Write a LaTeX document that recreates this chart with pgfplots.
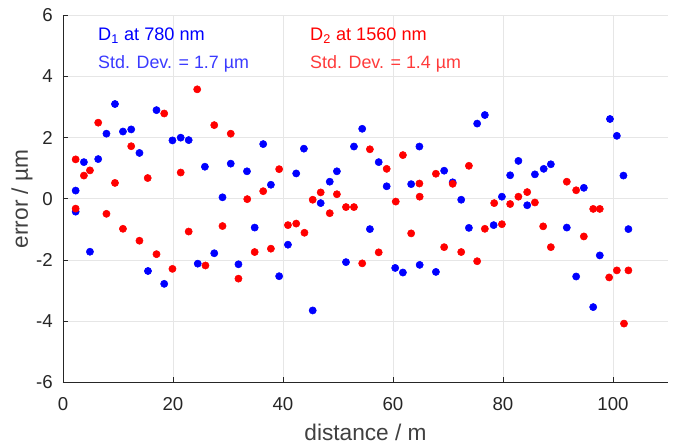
\documentclass[border=0pt]{standalone}
\usepackage{fontspec}
\setmainfont{Liberation Sans}
\usepackage{pgfplots}
\pgfplotsset{compat=1.18}
\usetikzlibrary{calc}
\definecolor{axgray}{HTML}{262626}
\definecolor{labgray}{HTML}{404040}
\definecolor{gridgray}{HTML}{E6E6E6}
\definecolor{dblue}{HTML}{0000FF}
\definecolor{dred}{HTML}{FF0000}
\definecolor{sblue}{HTML}{3A3AFF}
\definecolor{sred}{HTML}{FF3A3A}

\begin{document}
\begin{tikzpicture}
\begin{axis}[
  scale only axis,
  width=453.75pt, height=275.25pt,
  xmin=0, xmax=110, ymin=-6, ymax=6,
  xtick={0,20,...,100}, ytick={-6,-4,...,6},
  axis lines*=left,
  axis line style={draw=axgray, line width=0.6pt},
  tick style={draw=axgray, line width=0.6pt},
  tick align=inside,
  major tick length=4pt,
  grid=major,
  grid style={gridgray, line width=0.6pt},
  ticklabel style={font=\fontsize{14}{16}\selectfont, text=axgray},
  xticklabel style={anchor=base, yshift=-20.8pt},
  yticklabel style={anchor=east, inner xsep=0pt, xshift=-7.5pt},
  /pgf/number format/assume math mode=true,
  xlabel={distance / m},
  ylabel={error / µm},
  label style={font=\fontsize{17}{19}\selectfont, text=labgray},
  xlabel style={at={(rel axis cs:0.5,0)}, anchor=base, yshift=-44pt},
  ylabel style={at={(rel axis cs:0,0.5)}, rotate=0, anchor=base, yshift=26.25pt},
  clip=false,
]
\coordinate (sw) at (rel axis cs:0,0);
\coordinate (ne) at (rel axis cs:1,1);
\addplot[only marks, mark=*, mark size=2.7pt, mark options={draw=dblue, fill=dblue}] coordinates {
(2.3,0.27) (2.3,-0.42) (3.8,1.2) (4.9,-1.73) (6.4,1.3) (7.9,2.13) (9.45,3.10)
(10.9,2.2) (12.4,2.27) (13.9,1.5) (15.45,-2.36) (17.0,2.9) (18.4,-2.78)
(19.9,1.91) (21.4,2.0) (22.85,1.92) (24.5,-2.12) (25.8,1.05) (27.5,-1.78)
(29.0,0.05) (30.5,1.15) (31.9,-2.14) (33.45,0.9) (34.85,-0.94) (36.4,1.79)
(37.8,0.46) (39.3,-2.53) (40.9,-1.5) (42.4,0.83) (43.8,1.64) (45.4,-3.65)
(46.85,-0.14) (48.5,0.56) (49.8,0.9) (51.45,-2.07) (52.9,1.71) (54.4,2.29)
(55.8,-0.99) (57.4,1.2) (58.85,0.41) (60.4,-2.26) (61.8,-2.41) (63.3,0.48)
(64.8,1.71) (64.85,-2.16) (67.8,-2.39) (69.3,0.92) (70.85,0.54) (72.4,-0.03)
(73.8,-0.95) (75.3,2.46) (76.7,2.74) (78.3,-0.86) (79.8,0.07) (81.3,0.77)
(82.8,1.24) (84.4,-0.21) (85.8,0.8) (87.4,0.98) (88.7,1.13) (91.6,-0.94)
(93.3,-2.54) (94.7,0.36) (96.4,-3.54) (97.6,-1.85) (99.45,2.61) (100.7,2.06)
(101.9,0.76) (102.8,-0.99)
};
\addplot[only marks, mark=*, mark size=2.7pt, mark options={draw=dred, fill=dred}] coordinates {
(2.3,1.29) (2.3,-0.32) (3.8,0.76) (4.9,0.93) (6.4,2.49) (7.9,-0.49) (9.45,0.52)
(10.9,-0.98) (12.4,1.72) (13.9,-1.37) (15.4,0.68) (17.0,-1.81) (18.4,2.79)
(19.9,-2.29) (21.4,0.86) (22.85,-1.07) (24.4,3.58) (25.9,-2.18) (27.5,2.41)
(29.0,-0.89) (30.5,2.13) (31.9,-2.61) (33.5,-0.01) (34.85,-1.74) (36.4,0.25)
(37.8,-1.63) (39.3,0.97) (40.9,-0.86) (42.4,-0.81) (43.9,-1.11) (45.4,-0.03)
(46.85,0.21) (48.5,-0.47) (49.8,0.15) (51.45,-0.27) (52.9,-0.27) (54.4,-2.11)
(55.8,1.62) (57.4,-1.75) (58.85,0.98) (60.5,-0.09) (61.8,1.43) (63.3,-1.13)
(64.8,0.5) (64.85,0.07) (67.8,0.82) (69.3,-1.58) (70.85,0.49) (72.4,-1.74)
(73.8,1.08) (75.3,-2.04) (76.7,-0.98) (78.4,-0.14) (79.8,-0.83) (81.3,-0.17)
(82.8,0.07) (84.4,0.22) (85.8,-0.12) (87.3,-0.9) (88.7,-1.58) (91.6,0.56)
(93.3,0.28) (94.7,-1.23) (96.4,-0.33) (97.6,-0.33) (99.3,-2.57) (100.7,-2.34)
(102.0,-4.08) (102.8,-2.34)
};
\node[anchor=base west, inner sep=0pt, text=dblue, font=\fontsize{13.6}{15}\selectfont] at (axis cs:6.36,5.17) {D\textsubscript{1} at 780 nm};
\node[anchor=base west, inner sep=0pt, text=sblue, font=\fontsize{13.4}{15}\selectfont] at (axis cs:6.36,4.27) {Std. Dev. = 1.7 µm};
\node[anchor=base west, inner sep=0pt, text=dred, font=\fontsize{13.6}{15}\selectfont] at (axis cs:44.9,5.17) {D\textsubscript{2} at 1560 nm};
\node[anchor=base west, inner sep=0pt, text=sred, font=\fontsize{13.4}{15}\selectfont] at (axis cs:44.9,4.27) {Std. Dev. = 1.4 µm};
\end{axis}
\pgfresetboundingbox
\useasboundingbox ($(sw)+(-47.25pt,-49pt)$) rectangle ($(ne)+(6pt,11.5pt)$);
\end{tikzpicture}
\end{document}
